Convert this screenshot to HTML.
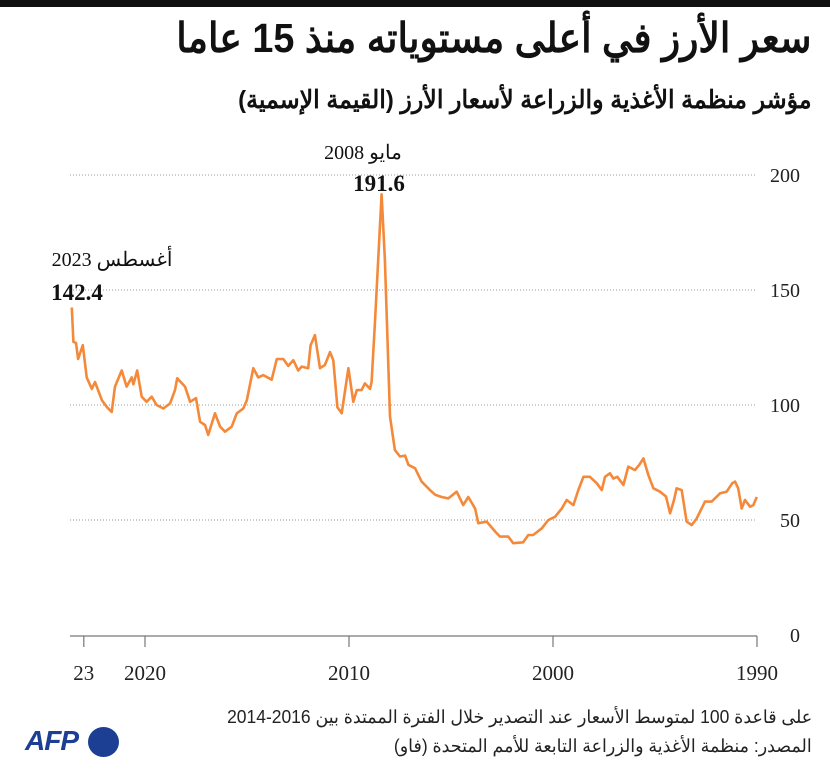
<!DOCTYPE html>
<html><head><meta charset="utf-8">
<style>
body{margin:0;width:830px;height:771px;background:#fff;overflow:hidden;position:relative;font-family:"Liberation Serif","Noto Serif CJK SC",serif}
.t{position:absolute;white-space:nowrap}
.ar{font-family:"Liberation Sans","Noto Sans CJK SC",sans-serif}
</style></head><body>
<div style="position:absolute;left:0;top:0;width:830px;height:7px;background:#111"></div>
<div class="t ar" dir="rtl" style="right:18px;top:14px;font-size:41px;font-weight:bold;color:#111;transform:scaleX(0.92);transform-origin:right">سعر الأرز في أعلى مستوياته منذ 15 عاما</div>
<div class="t ar" dir="rtl" style="right:18px;top:85px;font-size:25px;font-weight:bold;color:#111;transform:scaleX(0.95);transform-origin:right">مؤشر منظمة الأغذية والزراعة لأسعار الأرز (القيمة الإسمية)</div>
<svg id="chart" width="830" height="771" style="position:absolute;left:0;top:0"></svg>
<div class="t ar" dir="rtl" style="right:18px;top:707px;font-size:18px;color:#222;transform:scaleX(0.97);transform-origin:right">على قاعدة 100 لمتوسط الأسعار عند التصدير خلال الفترة الممتدة بين 2016-2014</div>
<div class="t ar" dir="rtl" style="right:18px;top:736px;font-size:18px;color:#222;transform:scaleX(0.97);transform-origin:right">المصدر: منظمة الأغذية والزراعة التابعة للأمم المتحدة (فاو)</div>
<div style="position:absolute;left:25px;top:727px;height:30px;width:95px">
<span class="ar" style="position:absolute;left:0;top:-2px;font-size:28px;font-weight:bold;font-style:italic;color:#1c3f94;letter-spacing:-1px">AFP</span>
<span style="position:absolute;left:63px;top:0;width:31px;height:30px;border-radius:50%;background:#1c3f94"></span>
</div>
<script>
const years=[23.59,23.51,23.38,23.28,23.05,22.86,22.61,22.45,22.11,21.86,21.63,21.47,21.14,20.90,20.65,20.57,20.38,20.16,19.92,19.67,19.43,19.10,18.77,18.53,18.42,18.04,17.79,17.50,17.30,17.06,16.90,16.57,16.32,16.08,15.75,15.50,15.18,15.01,14.69,14.45,14.20,13.79,13.54,13.22,12.98,12.73,12.49,12.32,12.00,11.88,11.67,11.42,11.18,10.93,10.77,10.57,10.36,10.03,9.79,9.62,9.38,9.22,8.97,8.89,8.73,8.40,8.24,7.99,7.75,7.50,7.25,7.09,6.76,6.44,6.03,5.78,5.46,5.13,4.72,4.40,4.15,3.82,3.66,3.25,2.84,2.60,2.19,1.95,1.46,1.21,0.97,0.55,0.23,-0.10,-0.43,-0.67,-1.00,-1.24,-1.49,-1.81,-2.14,-2.39,-2.55,-2.79,-2.96,-3.15,-3.45,-3.69,-4.02,-4.23,-4.43,-4.67,-4.92,-5.25,-5.54,-5.74,-5.93,-6.06,-6.31,-6.55,-6.80,-7.04,-7.45,-7.78,-8.19,-8.51,-8.79,-8.92,-9.08,-9.25,-9.41,-9.66,-9.82,-9.99].map(v=>2000+v);
const values=[142.4,127.5,127,120,126,112,107,110,102,99,97,108,115,108,112,109,115,103.6,101.4,103.6,100,98.5,100.7,106.5,111.6,108,101.4,103,92.7,91.3,87,96.4,90.6,88.4,90.6,96.4,98.5,102,116,112,113,111,120,120,117,119.5,115,116.7,116,126,130.4,116,117.4,123,119.5,99,96.4,116,101.4,106.5,106.5,109.4,107,110,135.5,191.6,163,95,80.4,77.6,78,74,72.5,66.7,63,61,60,59.4,62.3,56.5,60,55,48.6,49.3,45,42.8,42.8,39.9,40.3,43.5,43.5,46.4,50,51.4,55,58.7,56.5,63,68.8,68.8,66,63,68.8,70.3,68,68.8,65.2,73.2,71.7,74,76.8,69.6,63.8,62.3,60.2,52.9,58.7,63.8,63,49.3,47.8,50.6,58,58,61.6,62.3,66,66.7,63.8,55,58.7,55.8,56.5,60,65.7];
const yTicks=[0,50,100,150,200];
const xTicks=[2023,2020,2010,2000,1990];
const xTickLabels=["23","2020","2010","2000","1990"];
const NS="http://www.w3.org/2000/svg";
const svg=document.getElementById('chart');
const X=y=>757-(y-1990)*20.4;
const Y=v=>635-v*2.3;
function el(t,a){const e=document.createElementNS(NS,t);for(const k in a)e.setAttribute(k,a[k]);svg.appendChild(e);return e;}
yTicks.forEach(v=>{
 if(v>0){const g=el('line',{x1:70,x2:757,y1:Y(v),y2:Y(v),stroke:'#999','stroke-width':1,'stroke-dasharray':'1,2'});
 
 }
 const t=el('text',{x:800,y:Y(v)+7,'font-size':20,fill:'#222','text-anchor':'end','font-family':'Liberation Serif, serif'});
 t.textContent=v;
 
 
});
const ax=el('line',{x1:70,x2:757,y1:636,y2:636,stroke:'#777','stroke-width':1.2});


xTicks.forEach((yr,i)=>{
 const tk=el('line',{x1:X(yr),x2:X(yr),y1:636,y2:647,stroke:'#777','stroke-width':1.2});
 
 
 const t=el('text',{x:X(yr),y:680,'font-size':21,fill:'#222','text-anchor':'middle','font-family':'Liberation Serif, serif'});
 t.textContent=xTickLabels[i];
 
 
});
const d=years.map((y,i)=>(i?'L':'M')+X(y).toFixed(1)+','+Y(values[i]).toFixed(1)).join('');
const p=el('path',{d:d,fill:'none',stroke:'#f5893a','stroke-width':2.6,'stroke-linejoin':'round'});


function lab(x,y,txt,sz,bold,name){const t=el('text',{x:x,y:y,'font-size':sz,fill:'#111','text-anchor':'middle','font-weight':bold?'bold':'normal','font-family':'Liberation Serif, Noto Sans CJK SC, serif'});t.textContent=txt;
 
 }
lab(112,266,'أغسطس 2023',20,false,'annotation-aug-2023-date');
lab(77,300,'142.4',23,true,'annotation-aug-2023-value');
lab(363,159,'مايو 2008',20,false,'annotation-may-2008-date');
lab(379,191,'191.6',23,true,'annotation-may-2008-value');
</script>
</body></html>
